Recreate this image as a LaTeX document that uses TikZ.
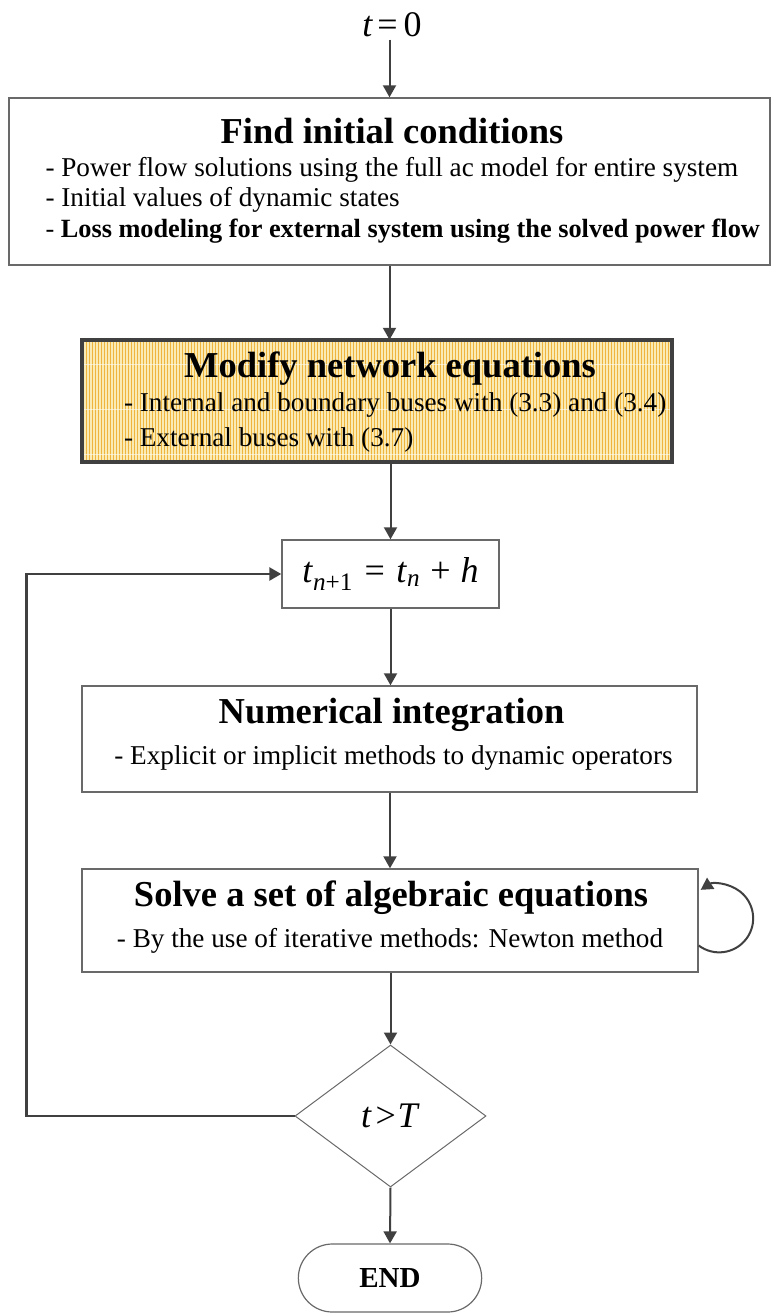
\documentclass[tikz,border=0pt]{standalone}
\usepackage{fontspec}
\setmainfont{Liberation Serif}
\usetikzlibrary{arrows.meta,calc,positioning,shapes.geometric,shapes.misc}

\definecolor{linegray}{RGB}{64,64,64}
\definecolor{framegray}{RGB}{105,105,105}
\definecolor{padyellow}{RGB}{250,234,180}
\definecolor{padstripe}{RGB}{238,180,62}

\tikzset{
  flow/.style={draw=linegray, line width=2pt, -{Triangle[length=12pt,width=13pt]}},
  backflow/.style={flow, line width=2.6pt},
  stepbox/.style={draw=framegray, line width=1.4pt, fill=white, inner sep=0pt},
  headtext/.style={font=\fontsize{36.5}{40}\selectfont\bfseries, inner sep=0pt, anchor=base},
  itemtext/.style={font=\fontsize{27.2}{30}\selectfont, inner sep=0pt, anchor=base west},
  linetext/.style={font=\fontsize{27.2}{30}\selectfont, inner sep=0pt, anchor=base},
  mathtext/.style={font=\fontsize{36}{40}\selectfont, inner sep=0pt},
}

\begin{document}
\begin{tikzpicture}[x=1pt,y=1pt,yscale=-1,xscale=1]
\useasboundingbox (0,0) rectangle (777,1313);

% Text Node
\node[mathtext, anchor=base, inner sep=2pt] (start) at (392,37) {\textit{t}\hspace{.12em}=\hspace{.16em}0};

%Shape: Rectangle
\node[stepbox, minimum width=761pt, minimum height=167pt] (init) at (389.5,181.5) {};
% Text Node
\node[headtext] (initHead) at ($(init.north)+(2.5,46)$) {Find initial conditions};
% Text Node
\node[itemtext] (initA) at ($(init.north west)+(37,79)$) {- Power flow solutions using the full ac model for entire system};
\node[itemtext] (initB) at ($(initA.base west)+(0,30.5)$) {- Initial values of dynamic states};
\node[itemtext, font=\fontsize{26.3}{30}\selectfont] (initC) at ($(initB.base west)+(0,30.5)$) {- \textbf{Loss modeling for external system using the solved power flow}};

%Shape: Rectangle (striped)
\node[inner sep=0pt, fill=padyellow, minimum width=590pt, minimum height=122pt] (modify) at (377,401) {};
\begin{scope}
  \clip (modify.north west) rectangle (modify.south east);
  \foreach \sx in {1.5,4.5,...,590}
    \draw[padstripe, line width=.9pt] ($(modify.north west)+(\sx,0)$) -- ++(0,122);
  \foreach \sy in {25,70,115}
    \draw[white, opacity=.55, line width=.8pt] ($(modify.north west)+(0,\sy)$) -- ++(590,0);
\end{scope}
\draw[linegray, line width=4.5pt] (modify.north west) rectangle (modify.south east);
% Text Node
\node[headtext] (modifyHead) at ($(modify.north)+(13,38)$) {Modify network equations};
% Text Node
\node[itemtext] (modifyA) at ($(modify.north west)+(42,72)$) {- Internal and boundary buses with (3.3) and (3.4)};
\node[itemtext] (modifyB) at ($(modifyA.base west)+(0,35)$) {- External buses with (3.7)};

%Shape: Rectangle
\node[stepbox, mathtext, minimum width=217pt, minimum height=68pt] (step) at (390.5,574)
  {\textit{t}\textsubscript{\textit{n}+1}\hspace{.32em}=\hspace{.32em}\textit{t}\textsubscript{\textit{n}}\hspace{.28em}+\hspace{.28em}\textit{h}};

%Shape: Rectangle
\node[stepbox, minimum width=615pt, minimum height=106pt] (integ) at (389.5,739) {};
% Text Node
\node[headtext] (integHead) at ($(integ.north)+(2,38)$) {Numerical integration};
\node[linetext] (integA) at ($(integ.north)+(4,79)$) {- Explicit or implicit methods to dynamic operators};

%Shape: Rectangle
\node[stepbox, minimum width=616pt, minimum height=103pt] (solve) at (390,920.5) {};
% Text Node
\node[headtext] (solveHead) at ($(solve.north)+(1,38)$) {Solve a set of algebraic equations};
\node[linetext] (solveA) at ($(solve.north)+(0,79)$) {- By the use of iterative methods: Newton method};

%Shape: Diamond
\node[diamond, draw=framegray, line width=1pt, inner sep=0pt, minimum width=191pt, minimum height=142pt,
  mathtext] (cond) at (390.5,1116) {\textit{t}\hspace{.1em}>\hspace{.05em}\textit{T}};

%Shape: Rounded Rectangle
\node[rounded rectangle, draw=framegray, line width=1.2pt, minimum width=190pt, minimum height=68pt,
  font=\fontsize{29}{32}\selectfont\bfseries] (stop) at (390,1278) {END};

%Straight Lines
\draw[flow] (init.north |- start.south) -- (init.north);
\draw[flow] (init.south) -- (init.south |- modify.north);
\draw[flow] (step.north |- modify.south) -- (step.north);
\draw[flow] (step.south) -- (step.south |- integ.north);
\draw[flow] (solve.north |- integ.south) -- (solve.north);
\draw[flow] (cond.north |- solve.south) -- (cond.north);
\draw[flow] (cond.south) -- (stop.north);
% loop back to the time step
\draw[backflow] (cond.west) -| ($(step.west)+(-255,0)$) -- (step.west);
% self loop on the solver
\draw[flow] ($(solve.east)+(0,25)$) arc[start angle=127, end angle=-123, radius=34];

\end{tikzpicture}
\end{document}
